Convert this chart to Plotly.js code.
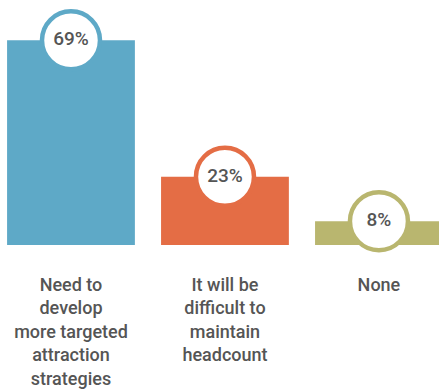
<!DOCTYPE html>
<html>
<head>
<meta charset="utf-8">
<script src="https://cdn.plot.ly/plotly-3.0.1.min.js"></script>
<style>html,body{margin:0;padding:0;background:#fff;}#chart{width:439px;height:390px;}</style>
</head>
<body>
<div id="chart"></div>
<script>
const categories = ["Need to develop more targeted attraction strategies", "It will be difficult to maintain headcount", "None"];
const tickLabels = ["Need to<br>develop<br>more targeted<br>attraction<br>strategies", "It will be<br>difficult to<br>maintain<br>headcount", "None"];
const values = [69, 23, 8];
const valueLabels = values.map(v => v + "%");
const colors = ["#5ea9c7", "#e46d45", "#b9b66f"];

const bars = {
  type: "bar",
  x: categories,
  y: values,
  width: 0.83,
  marker: {color: colors, line: {width: 0}},
  hoverinfo: "skip"
};
const circles = {
  type: "scatter",
  mode: "markers+text",
  x: categories,
  y: values,
  text: valueLabels,
  textposition: "middle center",
  textfont: {family: "Roboto, Arial, sans-serif", size: 19, weight: 500, color: "#555555"},
  marker: {size: 58, color: "#ffffff", line: {color: colors, width: 4.5}},
  cliponaxis: false,
  hoverinfo: "skip"
};
const layout = {
  width: 439, height: 390,
  margin: {l: 0, r: 0, t: 0, b: 145},
  paper_bgcolor: "#ffffff", plot_bgcolor: "#ffffff",
  showlegend: false,
  xaxis: {
    type: "category",
    range: [-0.461, 2.39],
    tickvals: categories,
    ticktext: tickLabels,
    ticks: "",
    showline: false, showgrid: false, zeroline: false,
    ticklabelstandoff: 27,
    tickfont: {family: "Roboto, Arial, sans-serif", size: 18, weight: 500, color: "#555555"},
    fixedrange: true
  },
  yaxis: {
    range: [0, 82.6],
    visible: false,
    showgrid: false, zeroline: false,
    fixedrange: true
  }
};
Plotly.newPlot("chart", [bars, circles], layout, {displayModeBar: false, staticPlot: true});
</script>
</body>
</html>
